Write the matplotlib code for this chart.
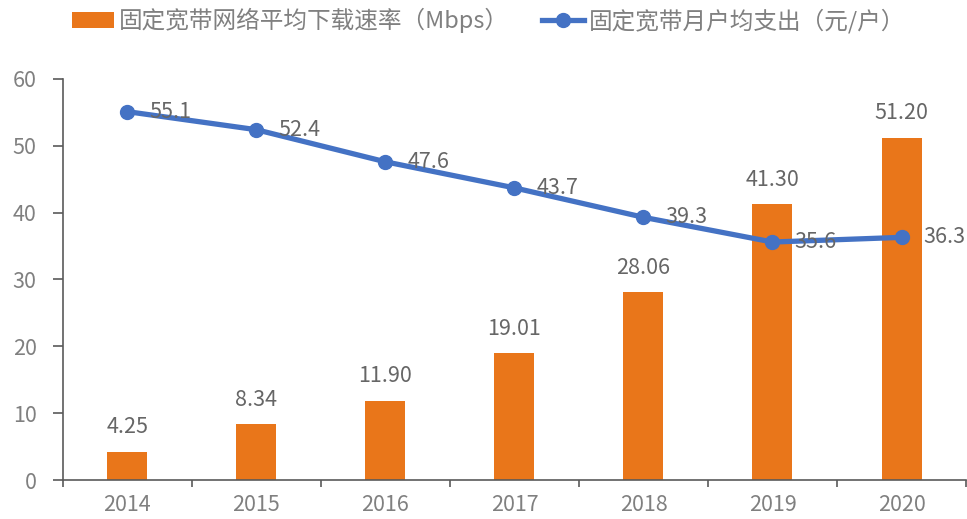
import matplotlib
matplotlib.use("Agg")
import matplotlib.pyplot as plt
import numpy as np

plt.rcParams['font.family'] = ['Noto Sans CJK SC', 'DejaVu Sans']

years = ['2014', '2015', '2016', '2017', '2018', '2019', '2020']
speed = [4.25, 8.34, 11.90, 19.01, 28.06, 41.30, 51.20]
speed_labels = ['4.25', '8.34', '11.90', '19.01', '28.06', '41.30', '51.20']
spend = [55.1, 52.4, 47.6, 43.7, 39.3, 35.6, 36.3]

orange = '#E9761A'
blue = '#4472C4'
gray = '#808080'
dark = '#666666'

fig = plt.figure(figsize=(9.67, 5.19), dpi=100)
ax = fig.add_axes([0.065, 0.075, 0.934, 0.773])

x = np.arange(len(years))
ax.bar(x, speed, width=0.31, color=orange, label='固定宽带网络平均下载速率（Mbps）', zorder=2)
ax.plot(x, spend, color=blue, lw=3.8, marker='o', ms=10, label='固定宽带月户均支出（元/户）', zorder=3)

for i, v in enumerate(speed):
    ax.text(x[i], v + 2.0, speed_labels[i], ha='center', va='bottom', fontsize=15.5, color=dark)
for i, v in enumerate(spend):
    ax.text(x[i] + 0.17, v, f'{v:.1f}', ha='left', va='center', fontsize=15.5, color=dark, zorder=4)

ax.set_xlim(-0.5, 6.5)
ax.set_ylim(0, 60)
ax.set_yticks(range(0, 61, 10))
ax.set_xticks(x)
ax.set_xticks(np.arange(-0.5, 6.6, 1.0), minor=True)
ax.set_xticklabels(years)
ax.tick_params(axis='y', colors='#5a5a5a', labelcolor=gray, labelsize=15.5, length=7, width=1.2, pad=12)
ax.tick_params(axis='x', which='major', length=0, labelcolor=gray, labelsize=15.5, pad=10)
ax.tick_params(axis='x', which='minor', length=5, width=1.2, color='#5a5a5a')
for s in ['top', 'right']:
    ax.spines[s].set_visible(False)
ax.spines['left'].set_color('#5a5a5a')
ax.spines['bottom'].set_color('#5a5a5a')
ax.spines['left'].set_linewidth(1.2)
ax.spines['bottom'].set_linewidth(1.2)

h, l = ax.get_legend_handles_labels()
order = [1, 0]
fig.legend([h[i] for i in order], [l[i] for i in order], loc='upper left', bbox_to_anchor=(0.052, 1.025),
           ncol=2, frameon=False, fontsize=17, labelcolor=gray, handlelength=1.8,
           handletextpad=0.2, columnspacing=1.4)

fig.savefig('out.png', dpi=100)
